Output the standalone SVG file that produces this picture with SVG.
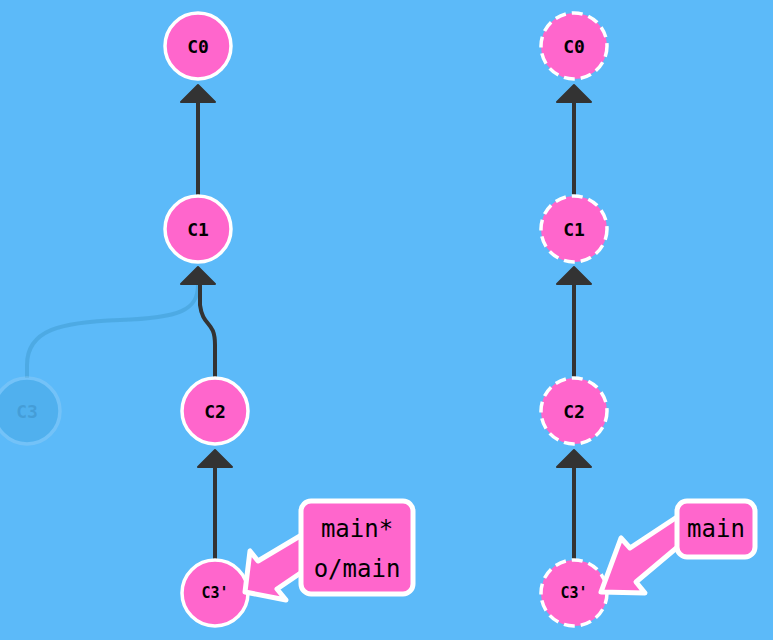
<svg xmlns="http://www.w3.org/2000/svg" width="773" height="640" viewBox="0 0 773 640">
<style>
.n{fill:#ff66cc;stroke:#fff;stroke-width:3.5}
.d{stroke-dasharray:11 6}
.t{font-family:"DejaVu Sans Mono",monospace;font-weight:bold;font-size:18px;text-anchor:middle;dominant-baseline:central;fill:#000}
.e{fill:none;stroke:#333;stroke-width:4}
.h{fill:#333;stroke:#333;stroke-width:2;stroke-linejoin:round}
.b{fill:#ff66cc;stroke:#fff;stroke-width:5;stroke-linejoin:round}
.l{font-family:"DejaVu Sans Mono",monospace;font-size:24px;text-anchor:middle;fill:#000}
</style>
<rect width="773" height="640" fill="#5cbaf9"/>
<g id="connectors">
<path d="M27 378 V365 C27 330 60 322 120 320 C180 318 198 310 198 285" fill="none" stroke="#4aa6df" stroke-width="4" opacity="0.8"/>
<path class="e" d="M198 196 V103"/><polygon class="h" points="198,85 181,102 215,102"/>
<path class="e" d="M215 378 V345 C215 320 203 328 200 305 V285"/><polygon class="h" points="198,267 181,284 215,284"/>
<path class="e" d="M215 560 V468"/><polygon class="h" points="215,450 198,467 232,467"/>
<path class="e" d="M574 196 V103"/><polygon class="h" points="574,85 557,102 591,102"/>
<path class="e" d="M574 378 V285"/><polygon class="h" points="574,267 557,284 591,284"/>
<path class="e" d="M574 560 V468"/><polygon class="h" points="574,450 557,467 591,467"/>
</g>
<g id="C3" opacity="0.35"><circle cx="27" cy="411" r="33" fill="#3aa0dc" stroke="#9fd3f7" stroke-width="3.5"/><text class="t" x="27" y="411" fill="#1a5a8a" style="fill:#1a6a9a">C3</text></g>
<g id="C0"><circle class="n" cx="198" cy="46" r="33"/><text class="t" x="198" y="46">C0</text></g>
<g id="C1"><circle class="n" cx="198" cy="229" r="33"/><text class="t" x="198" y="229">C1</text></g>
<g id="C2"><circle class="n" cx="215" cy="411" r="33"/><text class="t" x="215" y="411">C2</text></g>
<g id="C3p"><circle class="n" cx="215" cy="593" r="33"/><text class="t" x="215" y="593" style="font-size:15px">C3'</text></g>
<g id="R0"><circle class="n d" cx="574" cy="46" r="33"/><text class="t" x="574" y="46">C0</text></g>
<g id="R1"><circle class="n d" cx="574" cy="229" r="33"/><text class="t" x="574" y="229">C1</text></g>
<g id="R2"><circle class="n d" cx="574" cy="411" r="33"/><text class="t" x="574" y="411">C2</text></g>
<g id="R3p"><circle class="n d" cx="574" cy="593" r="33"/><text class="t" x="574" y="593" style="font-size:15px">C3'</text></g>
<g id="label-left">
<polygon class="b" points="305,533 258,561 250,551 245,592 286,600 277,589 305,570"/>
<rect class="b" x="301" y="501" width="112" height="93" rx="10"/>
<text class="l" x="357" y="537">main*</text><text class="l" x="357" y="577">o/main</text>
</g>
<g id="label-right">
<polygon class="b" points="680,515 630,548 621,538 601,592 645,593 636,582 680,545"/>
<rect class="b" x="677" y="501" width="78" height="56" rx="10"/>
<text class="l" x="716" y="537">main</text>
</g>
</svg>
